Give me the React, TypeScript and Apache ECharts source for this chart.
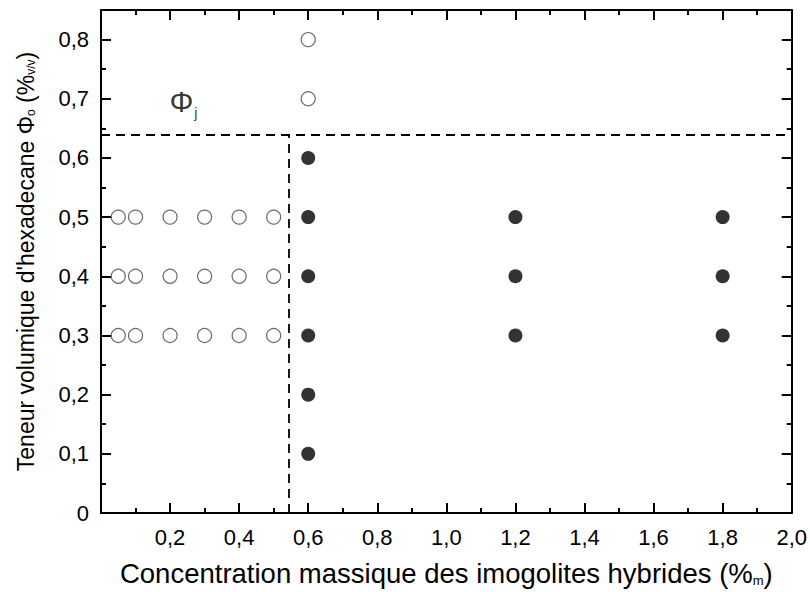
import React, { useEffect, useRef } from "react";
import * as echarts from "echarts";

const openPoints: [number, number][] = [
  [0.05, 0.3], [0.1, 0.3], [0.2, 0.3], [0.3, 0.3], [0.4, 0.3], [0.5, 0.3],
  [0.05, 0.4], [0.1, 0.4], [0.2, 0.4], [0.3, 0.4], [0.4, 0.4], [0.5, 0.4],
  [0.05, 0.5], [0.1, 0.5], [0.2, 0.5], [0.3, 0.5], [0.4, 0.5], [0.5, 0.5],
  [0.6, 0.7], [0.6, 0.8],
];
const filledPoints: [number, number][] = [
  [0.6, 0.1], [0.6, 0.2], [0.6, 0.3], [0.6, 0.4], [0.6, 0.5], [0.6, 0.6],
  [1.2, 0.3], [1.2, 0.4], [1.2, 0.5],
  [1.8, 0.3], [1.8, 0.4], [1.8, 0.5],
];
const phiJ = 0.64;
const boundaryX = 0.545;
const phiLabelPos: [number, number] = [0.198, 0.695];

const FONT = "Liberation Sans, Arial, sans-serif";
const fmt = (v: number) => (Math.abs(v) < 1e-9 ? "0" : v.toFixed(1).replace(".", ","));

const frame = () => ({
  axisLine: { show: true, onZero: false, lineStyle: { color: "#000", width: 2 } },
  axisTick: { show: true, inside: true, length: 10, lineStyle: { color: "#000", width: 2 } },
  minorTick: { show: true, splitNumber: 2, length: 5, lineStyle: { color: "#000", width: 2 } },
  splitLine: { show: false },
});

export default function App() {
  const ref = useRef<HTMLDivElement>(null);
  useEffect(() => {
    const chart = echarts.init(ref.current!, null, { renderer: "svg" });
    chart.setOption({
      animation: false,
      backgroundColor: "#fff",
      grid: { left: 101, right: 18, top: 10, bottom: 75 },
      xAxis: [
        {
          type: "value", min: 0, max: 2, interval: 0.2, position: "bottom", ...frame(),
          axisLabel: {
            color: "#000", fontSize: 22, margin: 13, fontFamily: FONT,
            formatter: (v: number) => (Math.abs(v) < 1e-9 ? "" : fmt(v)),
          },
          name: "Concentration massique des imogolites hybrides (%{s|m})",
          nameLocation: "middle", nameGap: 46,
          nameTextStyle: {
            color: "#000", fontSize: 27.5, fontFamily: FONT,
            rich: { s: { fontSize: 13, verticalAlign: "bottom", padding: [10, 0, 0, 0], fontFamily: FONT, color: "#000" } },
          },
        },
        {
          type: "value", min: 0, max: 2, interval: 0.2, position: "top", ...frame(),
          axisLabel: { show: false },
        },
      ],
      yAxis: [
        {
          type: "value", min: 0, max: 0.85, interval: 0.1, position: "left", ...frame(),
          axisLabel: {
            color: "#000", fontSize: 22, margin: 12, fontFamily: FONT,
            formatter: (v: number) => (v > 0.82 ? "" : fmt(v)),
          },
          name: "Teneur volumique d'hexadecane Φ{s|o} (%{s|v/v})",
          nameLocation: "middle", nameGap: 64, nameRotate: 90,
          nameTextStyle: {
            color: "#000", fontSize: 23, fontFamily: FONT,
            rich: { s: { fontSize: 12, verticalAlign: "bottom", padding: [10, 0, 0, 0], fontFamily: FONT, color: "#000" } },
          },
        },
        {
          type: "value", min: 0, max: 0.85, interval: 0.1, position: "right", ...frame(),
          axisLabel: { show: false },
        },
      ],
      series: [
        {
          type: "scatter", name: "open", data: openPoints, symbol: "circle", symbolSize: 14,
          itemStyle: { color: "#fff", borderColor: "#444", borderWidth: 1.2 },
          markLine: {
            silent: true, symbol: ["none", "none"],
            lineStyle: { color: "#000", type: [9, 6], width: 1.8 },
            label: { show: false },
            data: [
              [{ coord: [0, phiJ] }, { coord: [2, phiJ] }],
              [{ coord: [boundaryX, 0] }, { coord: [boundaryX, phiJ] }],
            ],
          },
        },
        {
          type: "scatter", name: "filled", data: filledPoints, symbol: "circle", symbolSize: 14,
          itemStyle: { color: "#000" },
        },
        {
          type: "scatter", name: "label", data: [phiLabelPos], symbolSize: 0, silent: true,
          itemStyle: { color: "#000" },
          label: {
            show: true, position: "right", distance: 0, formatter: "{p|Φ}{j|j}",
            color: "#000",
            rich: {
              p: { fontSize: 30, color: "#000", fontFamily: FONT },
              j: { fontSize: 14, verticalAlign: "bottom", padding: [22, 0, 0, 1], color: "#000", fontFamily: FONT },
            },
          },
        },
      ],
    });
    return () => chart.dispose();
  }, []);
  return <div ref={ref} style={{ width: 810, height: 592, position: "absolute", left: 0, top: 0 }} />;
}
